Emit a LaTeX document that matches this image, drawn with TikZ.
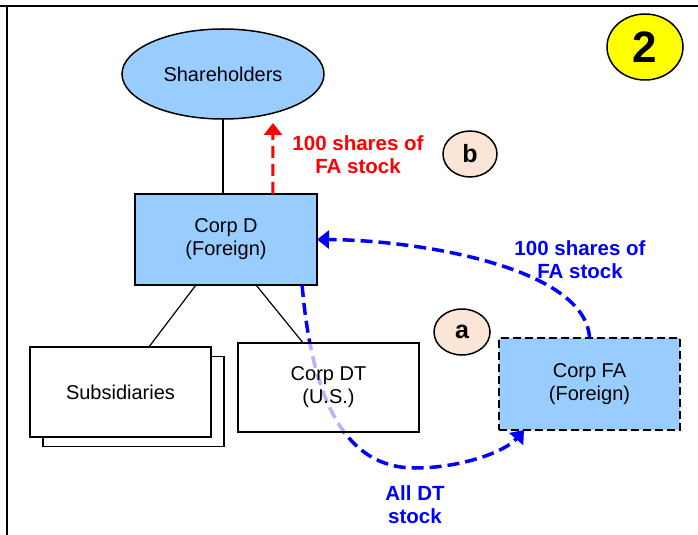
\documentclass[tikz,border=0pt]{standalone}
\usepackage{fontspec}
\setmainfont{Liberation Sans}
\usetikzlibrary{arrows.meta,calc,shapes.geometric}
\definecolor{boxblue}{RGB}{153,204,255}
\definecolor{peach}{RGB}{251,229,214}
\definecolor{flowblue}{RGB}{0,0,255}
\definecolor{flowred}{RGB}{255,0,0}
\definecolor{badgeyellow}{RGB}{255,255,0}
\begin{document}
\begin{tikzpicture}[x=1bp,y=-1bp,
  boxtext/.style={font=\fontsize{20bp}{23bp}\selectfont},
  entity/.style={boxtext,draw=black,line width=1.5bp,rectangle,inner sep=0pt,outer sep=0pt,align=center,minimum width=181bp,minimum height=90bp},
  plainlink/.style={draw=black,line width=1.2bp},
  flowlabel/.style={font=\fontsize{20.5bp}{23bp}\selectfont\bfseries,align=center},
  bluearrow/.style={draw=flowblue,line width=3.5bp,dash pattern=on 12bp off 6bp,-{Triangle[length=12bp,width=18bp]}},
  redarrow/.style={draw=flowred,line width=3bp,dash pattern=on 12bp off 6bp,-{Triangle[length=12bp,width=18bp]}},
  stepmark/.style={ellipse,draw=black,line width=1.5bp,fill=peach,inner sep=0pt,minimum width=54bp,minimum height=46bp,font=\fontsize{25bp}{28bp}\selectfont\bfseries}
]
\useasboundingbox (0,0) rectangle (698,535);
% frame
\draw[line width=2bp] (0,6) -- (698,6);
\draw[line width=2bp] (6.7,6) -- (6.7,535);

% nodes
\node[ellipse,draw=black,line width=1.5bp,fill=boxblue,minimum width=202bp,minimum height=90bp,inner sep=0pt,outer sep=0pt,boxtext] (sh) at (223,74) {Shareholders};
\node[entity,fill=boxblue,minimum width=182bp,minimum height=91bp] (corpd) at (226,239.5) {Corp D\\(Foreign)};
\node[entity,fill=white] (subsback) at (133.5,401.5) {};
\node[entity,fill=white] (subs) at (120.5,392) {Subsidiaries};
\node[entity,fill=boxblue,minimum height=92bp,dash pattern=on 8bp off 4bp] (corpfa) at (589.5,384) {Corp FA\\(Foreign)};

\node[ellipse,draw=black,line width=1.5bp,fill=badgeyellow,minimum width=76bp,minimum height=66bp,inner sep=0pt,font=\fontsize{44bp}{48bp}\selectfont\bfseries] (badge) at (645,47) {2};
\node[stepmark] (markb) at (470,154) {b};
\node[stepmark,minimum width=56bp] (marka) at (462,332) {a};

% connectors
\draw[plainlink] (sh.south) -- (sh.south |- corpd.north);
\draw[plainlink] ($(corpd.south west)!0.335!(corpd.south east)$) -- ($(subs.north west)!0.657!(subs.north east)$);

% bottom flow (drawn before Corp DT so the box veils it)
\coordinate (dtstart) at ($(corpd.south west)!0.918!(corpd.south east)$);
\coordinate (fatip) at ($(corpfa.south west)!0.138!(corpfa.south east)$);
\draw[bluearrow] (dtstart) .. controls (312,400) and (345,468) .. (415,468) .. controls (460,468) and (505,452) .. (fatip);

\node[entity,fill=white,fill opacity=0.7,text opacity=1,minimum height=89bp] (corpdt) at (328.5,387.5) {Corp DT\\(U.S.)};
\draw[plainlink] ($(corpd.south west)!0.665!(corpd.south east)$) -- ($(corpdt.north west)!0.36!(corpdt.north east)$);

% upper blue flow
\draw[bluearrow] (corpfa.north) .. controls (586,268) and (420,240) .. (corpd.east);

% red flow
\coordinate (redtip) at (273,123);
\draw[redarrow] ($(corpd.north west)!0.758!(corpd.north east)$) -- (redtip);

% labels
\node[flowlabel,text=flowred] (lblred) at (358,154.5) {100 shares of\\FA stock};
\node[flowlabel,text=flowblue] (lblfa) at (580,259.5) {100 shares of\\FA stock};
\node[flowlabel,text=flowblue] (lbldt) at (415,505) {All DT\\stock};
\end{tikzpicture}
\end{document}
